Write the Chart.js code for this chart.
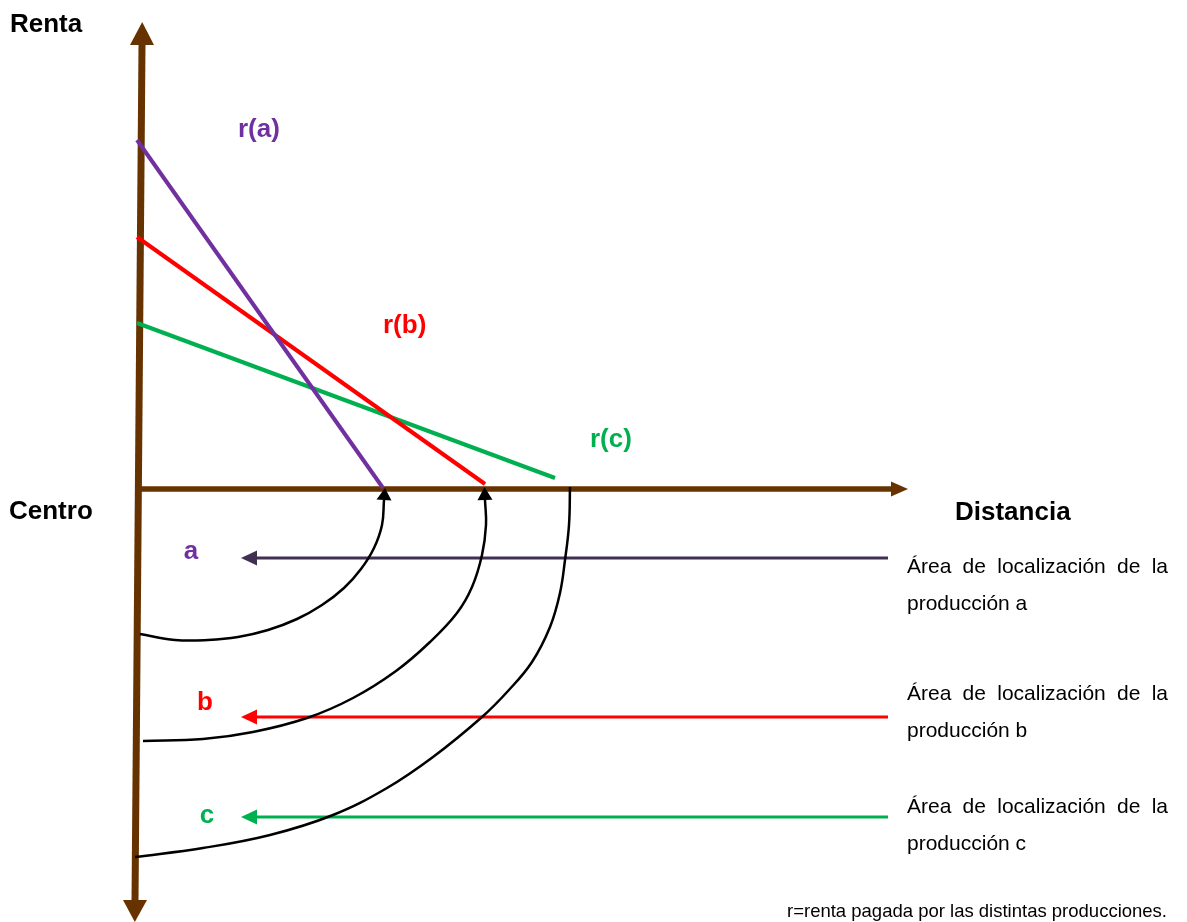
<!DOCTYPE html>
<html><head><meta charset="utf-8">
<script src="https://cdn.jsdelivr.net/npm/chart.js@4/dist/chart.umd.min.js"></script>
<style>html,body{margin:0;padding:0;background:#fff;overflow:hidden}#wrap{width:1187px;height:922px;position:relative}</style>
</head><body><div id="wrap"><canvas id="c"></canvas></div>
<script>
// ---- data (distance units on x, rent units on y; origin = Centro) ----
const distanceRange = [-13.9, 104.8];
const rentRange = [-43.3, 48.9];

const rentAxis = [{x:0.3,y:44.4},{x:-0.4,y:-41.1}];
const distanceAxis = [{x:0,y:0},{x:75.2,y:0}];

const rentA = [{x:-0.2,y:34.9},{x:24.4,y:0.1}];
const rentB = [{x:-0.2,y:25.2},{x:34.6,y:0.5}];
const rentC = [{x:-0.2,y:16.6},{x:41.6,y:1.1}];

const arcA = [{x:24.5,y:-1.1},{x:24.3,y:-3.6},{x:23.5,y:-5.9},{x:22.2,y:-8.0},{x:20.5,y:-9.9},{x:18.3,y:-11.6},{x:15.8,y:-13.0},{x:12.9,y:-14.1},{x:9.9,y:-14.8},{x:6.9,y:-15.1},{x:3.6,y:-15.1},{x:0.1,y:-14.5}];
const arcB = [{x:34.6,y:-1.1},{x:34.7,y:-3.6},{x:34.3,y:-6.6},{x:33.3,y:-9.8},{x:31.8,y:-12.4},{x:29.1,y:-15.3},{x:25.7,y:-18.2},{x:21.4,y:-20.9},{x:16.8,y:-22.9},{x:11.4,y:-24.3},{x:6.4,y:-25.0},{x:0.4,y:-25.2}];
const arcC = [{x:43.1,y:0.2},{x:43.0,y:-3.6},{x:42.6,y:-7.1},{x:42.1,y:-10.4},{x:41.1,y:-13.8},{x:39.3,y:-17.3},{x:36.9,y:-20.2},{x:34.3,y:-22.8},{x:29.4,y:-26.8},{x:24.8,y:-29.9},{x:19.4,y:-32.6},{x:13.1,y:-34.6},{x:6.4,y:-35.9},{x:-0.4,y:-36.8}];

const zoneA = [{x:74.9,y:-6.9},{x:11.8,y:-6.9}];
const zoneB = [{x:74.9,y:-22.8},{x:11.8,y:-22.8}];
const zoneC = [{x:74.9,y:-32.8},{x:11.8,y:-32.8}];

const axisTitles = ['Renta','Centro','Distancia'];
const rentLabels = ['r(a)','r(b)','r(c)'];
const zoneLabels = ['a','b','c'];
const zoneText = [
  ['Área de localización de la','producción a'],
  ['Área de localización de la','producción b'],
  ['Área de localización de la','producción c']
];
const footnote = 'r=renta pagada por las distintas producciones.';

// ---- styles ----
const BROWN='#663300', PURPLE='#7030A0', DPURPLE='#403152', RED='#FF0000', GREEN='#00B050';
const BOLD='bold 26px "Liberation Sans", Arial, sans-serif';
const REG='21px "Liberation Sans", Arial, sans-serif';
const FOOT='18.5px "Liberation Sans", Arial, sans-serif';

function ds(data,color,width,extra){
  return Object.assign({data,borderColor:color,backgroundColor:color,borderWidth:width,showLine:true,pointRadius:0,tension:0,fill:false,borderCapStyle:'butt'},extra||{});
}

const datasets=[
  ds(rentA,PURPLE,4),
  ds(rentB,RED,4),
  ds(rentC,GREEN,4),
  ds(arcA,'#000',2.5,{tension:0.4,arrowStart:{len:12,w:15}}),
  ds(arcB,'#000',2.5,{tension:0.4,arrowStart:{len:13,w:15}}),
  ds(arcC,'#000',2.5,{tension:0.4}),
  ds(zoneA,DPURPLE,3,{arrowEnd:{len:16,w:15}}),
  ds(zoneB,RED,3,{arrowEnd:{len:16,w:15}}),
  ds(zoneC,GREEN,3,{arrowEnd:{len:16,w:15}}),
  ds(distanceAxis,BROWN,5.5,{arrowEnd:{len:17,w:15}}),
  ds(rentAxis,BROWN,7,{arrowStart:{len:23,w:24},arrowEnd:{len:22,w:24}})
];

function head(ctx,p,q,a,color){
  const dx=p.x-q.x, dy=p.y-q.y, L=Math.hypot(dx,dy)||1;
  const ux=dx/L, uy=dy/L, nx=-uy, ny=ux;
  ctx.beginPath();
  ctx.moveTo(p.x+ux*a.len,p.y+uy*a.len);
  ctx.lineTo(p.x+nx*a.w/2,p.y+ny*a.w/2);
  ctx.lineTo(p.x-nx*a.w/2,p.y-ny*a.w/2);
  ctx.closePath();
  ctx.fillStyle=color; ctx.fill();
}

const arrowPlugin={id:'arrows',afterDatasetsDraw(chart){
  const ctx=chart.ctx; ctx.save();
  chart.data.datasets.forEach((d,i)=>{
    const pts=chart.getDatasetMeta(i).data; if(pts.length<2) return;
    if(d.arrowStart) head(ctx,pts[0],pts[1],d.arrowStart,d.borderColor);
    if(d.arrowEnd) head(ctx,pts[pts.length-1],pts[pts.length-2],d.arrowEnd,d.borderColor);
  });
  ctx.restore();
}};

const textPlugin={id:'texts',afterDraw(chart){
  const ctx=chart.ctx, X=chart.scales.x, Y=chart.scales.y;
  const px=v=>X.getPixelForValue(v), py=v=>Y.getPixelForValue(v);
  ctx.save(); ctx.textBaseline='alphabetic';
  function t(s,x,y,font,color,align){ctx.font=font;ctx.fillStyle=color;ctx.textAlign=align||'left';ctx.fillText(s,px(x),py(y));}
  t(axisTitles[0],-12.9,45.7,BOLD,'#000');
  t(axisTitles[1],-13.0,-3.0,BOLD,'#000');
  t(axisTitles[2],81.6,-3.1,BOLD,'#000');
  t(rentLabels[0],9.9,35.2,BOLD,PURPLE);
  t(rentLabels[1],24.4,15.6,BOLD,RED);
  t(rentLabels[2],45.1,4.2,BOLD,GREEN);
  t(zoneLabels[0],5.2,-7.0,BOLD,PURPLE,'center');
  t(zoneLabels[1],6.6,-22.1,BOLD,RED,'center');
  t(zoneLabels[2],6.8,-33.4,BOLD,GREEN,'center');
  const rows=[[-8.4,-12.1],[-21.1,-24.8],[-32.4,-36.1]];
  const left=76.8,right=102.9;
  ctx.font=REG; ctx.fillStyle='#000'; ctx.textAlign='left';
  zoneText.forEach((lines,k)=>{
    const words=lines[0].split(' ');
    const ws=words.map(w=>ctx.measureText(w).width);
    const sum=ws.reduce((a,b)=>a+b,0);
    const W=px(right)-px(left);
    const gap=(W-sum)/(words.length-1);
    let x=px(left);
    words.forEach((w,j)=>{ctx.fillText(w,x,py(rows[k][0]));x+=ws[j]+gap;});
    ctx.fillText(lines[1],px(left),py(rows[k][1]));
  });
  t(footnote,102.8,-42.8,FOOT,'#000','right');
  ctx.restore();
}};

new Chart(document.getElementById('c'),{
  type:'scatter',
  data:{datasets},
  options:{
    responsive:true,maintainAspectRatio:false,animation:false,
    layout:{padding:0},
    plugins:{legend:{display:false},tooltip:{enabled:false}},
    scales:{
      x:{type:'linear',min:distanceRange[0],max:distanceRange[1],display:false},
      y:{type:'linear',min:rentRange[0],max:rentRange[1],display:false}
    }
  },
  plugins:[arrowPlugin,textPlugin]
});
</script></body></html>
